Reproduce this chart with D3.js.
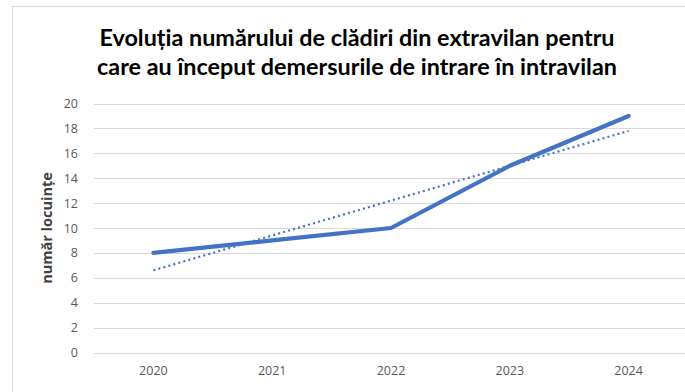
<!DOCTYPE html>
<html>
<head>
<meta charset="utf-8">
<script src="https://cdn.jsdelivr.net/npm/d3@7"></script>
<style>
  html, body { margin: 0; padding: 0; background: #fff; }
  svg { display: block; }
</style>
</head>
<body>
<svg id="chart" width="685" height="392"></svg>
<script>
// Data
const years = ["2020", "2021", "2022", "2023", "2024"];
const buildings = [8, 9, 10, 15, 19];
const yTicks = [0, 2, 4, 6, 8, 10, 12, 14, 16, 18, 20];
const titleLines = [
  "Evoluția numărului de clădiri din extravilan pentru",
  "care au început demersurile de intrare în intravilan"
];
const yAxisTitle = "număr locuințe";

const W = 685, H = 392;
const margin = { left: 94, right: -3, top: 103, bottom: 40 };
const svg = d3.select("#chart");

// Chart frame
svg.append("rect")
  .attr("x", 12.5).attr("y", 6.5)
  .attr("width", W + 20).attr("height", H + 20)
  .attr("fill", "#fff").attr("stroke", "#d9d9d9").attr("stroke-width", 1);

const x = d3.scaleBand().domain(years)
  .range([margin.left, W - margin.right]);
const y = d3.scaleLinear().domain([0, 20])
  .range([352.5, 103.5]);

// Gridlines
svg.append("g")
  .selectAll("line").data(yTicks).join("line")
  .attr("x1", margin.left).attr("x2", W)
  .attr("y1", d => Math.round(y(d)) + 0.5).attr("y2", d => Math.round(y(d)) + 0.5)
  .attr("stroke", "#d9d9d9").attr("stroke-width", 1);

// Y tick labels
const yAxis = d3.axisLeft(y).tickValues(yTicks).tickSize(0).tickPadding(0);
const gy = svg.append("g").attr("transform", "translate(78,0)").call(yAxis);
gy.select(".domain").remove();
gy.selectAll("text")
  .attr("font-family", "Open Sans, Liberation Sans, sans-serif")
  .attr("font-size", 12.5).attr("fill", "#595959");

// X tick labels
const xAxis = d3.axisBottom(x).tickSize(0).tickPadding(0);
const gx = svg.append("g").attr("transform", "translate(0,366)").call(xAxis);
gx.select(".domain").remove();
gx.selectAll("text")
  .attr("font-family", "Open Sans, Liberation Sans, sans-serif")
  .attr("font-size", 12.5).attr("fill", "#595959");

const cx = d => x(d) + x.bandwidth() / 2;

// Linear trendline (least squares fit of the series)
const idx = buildings.map((_, i) => i);
const mx = d3.mean(idx), my = d3.mean(buildings);
const slope = d3.sum(idx, i => (i - mx) * (buildings[i] - my)) / d3.sum(idx, i => (i - mx) ** 2);
const intercept = my - slope * mx;
const trend = [0, years.length - 1].map(i => ({ year: years[i], v: intercept + slope * i }));

svg.append("path")
  .datum(trend)
  .attr("d", d3.line().x(d => cx(d.year)).y(d => y(d.v)))
  .attr("fill", "none").attr("stroke", "#4472C4")
  .attr("stroke-width", 2.2).attr("stroke-dasharray", "2 3.2");

// Series line
svg.append("path")
  .datum(years.map((yr, i) => ({ year: yr, v: buildings[i] })))
  .attr("d", d3.line().x(d => cx(d.year)).y(d => y(d.v)))
  .attr("fill", "none").attr("stroke", "#4472C4")
  .attr("stroke-width", 4.2).attr("stroke-linecap", "round").attr("stroke-linejoin", "round");

// Title
const title = svg.append("text")
  .attr("text-anchor", "middle")
  .attr("font-family", "Lato, Open Sans, Liberation Sans, sans-serif")
  .attr("font-weight", "bold").attr("font-size", 20).attr("fill", "#000");
titleLines.forEach((t, i) => {
  title.append("tspan").attr("x", 357).attr("y", 46 + i * 29).text(t);
});
// Fit title width to the available heading space
const tw = title.node().getBBox().width;
title.attr("font-size", 20 * 520 / tw);

// Y axis title
const yt = svg.append("text")
  .attr("transform", "translate(52,228) rotate(-90)")
  .attr("text-anchor", "middle")
  .attr("font-family", "Open Sans, Liberation Sans, sans-serif")
  .attr("font-weight", "bold").attr("font-size", 13).attr("fill", "#404040")
  .text(yAxisTitle);
const yw = yt.node().getBBox().width;
yt.attr("font-size", 13 * 112 / yw);
</script>
</body>
</html>
